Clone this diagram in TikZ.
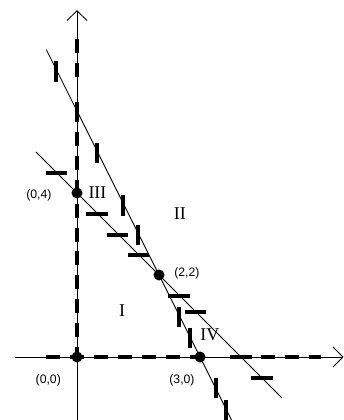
\documentclass[tikz,border=0pt]{standalone}
\usepackage{fontspec}
\setmainfont{Liberation Serif}
\newfontfamily\labelfont{Liberation Sans}
\usetikzlibrary{arrows.meta,positioning}

\begin{document}
\begin{tikzpicture}[>={Straight Barb[length=2.4mm,width=4.9mm]},
  axis/.style={line width=0.6pt},
  bound/.style={line width=0.6pt},
  hatch/.style={line width=3pt, dash pattern=on 9.7pt off 6.9pt},
  tick/.style={line width=3pt},
  pt/.style={circle,fill,inner sep=0pt,minimum size=2.7mm},
  coord/.style={font=\labelfont\fontsize{8.5}{10}\selectfont, inner sep=0pt},
  region/.style={font=\fontsize{12.5}{14}\selectfont, inner sep=0pt}]
\useasboundingbox (-1.878,-1.537) rectangle (6.512,8.707);
% axes
\coordinate (xl) at (-1.51,0);
\coordinate (xr) at (6.5,0);
\coordinate (yb) at (0,-1.537);
\coordinate (yt) at (0,8.46);
\draw[axis,->] (xl) -- (xr);
\draw[axis,->] (yb) -- (yt);
% boundary lines x+y=4 and 2x+y=6
\coordinate (a1) at (-1,5);
\coordinate (a2) at (5,-1);
\coordinate (b1) at (-0.75,7.5);
\coordinate (b2) at (3.77,-1.537);
\draw[bound] (a1) -- (a2);
\draw[bound] (b1) -- (b2);
% dashed parts of the axes
\draw[hatch] (0,7.76) -- (0,6.75);
\draw[hatch] (0,5.49) -- (0,0);
\draw[hatch] (-0.75,0) -- (3.2,0);
\draw[hatch] (3.9,0) -- (5.95,0);
% shading marks
\foreach \x/\y in {-0.51/6.96, 0/5.97, 0.49/4.98, 1.12/3.7, 1.49/2.98, 2.49/0.98, 2.76/0.46, 3.39/-0.76, 3.63/-1.29}
  \draw[tick] (\x,\y-0.25) -- (\x,\y+0.25);
\foreach \x/\y in {-0.5/4.49, 0.49/3.49, 0.99/2.98, 1.5/2.49, 2.49/1.49, 2.89/1.1, 4/0, 4.51/-0.51}
  \draw[tick] (\x-0.26,\y) -- (\x+0.26,\y);
% corner points
\node[pt] (o) at (0,0) {};
\node[pt] (p04) at (0,4) {};
\node[pt] (p22) at (2,2) {};
\node[pt] (p30) at (3,0) {};
\node[coord] (l00) at (-0.7,-0.56) {(0,0)};
\node[coord] (l04) at (-0.93,3.95) {(0,4)};
\node[coord] (l22) at (2.68,2.05) {(2,2)};
\node[coord] (l30) at (2.56,-0.56) {(3,0)};
% regions
\node[region] (r1) at (1.1,1.12) {I};
\node[region] (r2) at (2.51,3.49) {II};
\node[region] (r3) at (0.5,4.0) {III};
\node[region] (r4) at (3.24,0.54) {IV};
\end{tikzpicture}
\end{document}
